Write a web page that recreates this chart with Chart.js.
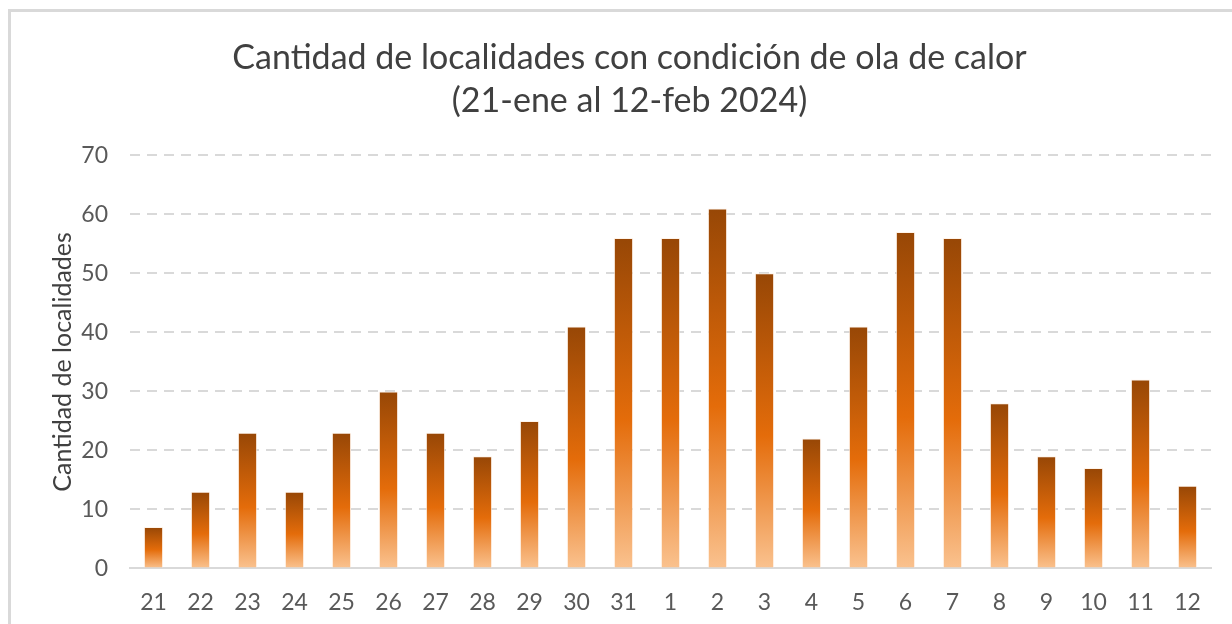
<!DOCTYPE html>
<html>
<head>
<meta charset="utf-8">
<script src="https://cdn.jsdelivr.net/npm/chart.js"></script>
<style>
  html, body { margin: 0; padding: 0; background: #fff; overflow: hidden; }
  #frame { position: absolute; left: 8px; top: 9px; width: 1300px; height: 700px; border: 3px solid #d9d9d9; box-sizing: border-box; }
  #wrap { position: absolute; left: 0; top: 0; width: 1232px; height: 624px; overflow: hidden; }
</style>
</head>
<body>
<div id="frame"></div>
<div id="wrap"><canvas id="olaChart" width="1232" height="630"></canvas></div>
<script>
// dias del 21-ene al 12-feb 2024
const dias = ['21', '22', '23', '24', '25', '26', '27', '28', '29', '30', '31',
  '1', '2', '3', '4', '5', '6', '7', '8', '9', '10', '11', '12'];
const localidades = [7, 13, 23, 13, 23, 30, 23, 19, 25, 41, 56,
  56, 61, 50, 22, 41, 57, 56, 28, 19, 17, 32, 14];
const yTicks = [0, 10, 20, 30, 40, 50, 60, 70];

const fontFam = 'Lato, "Open Sans", sans-serif';

// each bar gets its own gradient: dark brown top -> orange -> peach bottom
function barGradient(ctx) {
  const chart = ctx.chart;
  if (!chart.chartArea || ctx.dataIndex === undefined) return '#e46c0a';
  const y = chart.scales.y;
  const top = y.getPixelForValue(localidades[ctx.dataIndex]);
  const base = y.getPixelForValue(0);
  const g = chart.ctx.createLinearGradient(0, top, 0, base);
  g.addColorStop(0, '#974706');
  g.addColorStop(0.55, '#e46c0a');
  g.addColorStop(1, '#fac28f');
  return g;
}

new Chart(document.getElementById('olaChart'), {
  type: 'bar',
  data: {
    labels: dias,
    datasets: [{
      label: 'Cantidad de localidades',
      data: localidades,
      backgroundColor: barGradient,
      borderColor: 'rgba(255,240,225,0.7)',
      borderWidth: 1,
      categoryPercentage: 1,
      barPercentage: 0.41
    }]
  },
  options: {
    responsive: false,
    animation: false,
    layout: { padding: { left: 48, right: 21, top: 26, bottom: 2 } },
    plugins: {
      legend: { display: false },
      tooltip: { enabled: false },
      title: {
        display: true,
        text: ['Cantidad de localidades con condición de ola de calor', '(21-ene al 12-feb 2024)'],
        color: '#404040',
        font: { family: fontFam, size: 34, weight: 'normal', lineHeight: 1.27 },
        padding: { top: 10, bottom: 33 }
      }
    },
    scales: {
      x: {
        grid: { display: false },
        border: { display: true, color: '#d9d9d9', width: 2 },
        ticks: { color: '#595959', font: { family: fontFam, size: 23 }, padding: 12 }
      },
      y: {
        min: 0,
        max: 70,
        afterBuildTicks: axis => { axis.ticks = yTicks.map(v => ({ value: v })); },
        afterFit: axis => { axis.width = 82; },
        grid: {
          color: c => c.tick && c.tick.value === 0 ? 'rgba(0,0,0,0)' : '#d9d9d9',
          lineWidth: 2,
          drawTicks: false
        },
        border: { display: false, dash: [10, 7] },
        ticks: { color: '#595959', font: { family: fontFam, size: 23 }, padding: 22 },
        title: {
          display: true,
          text: 'Cantidad de localidades',
          color: '#404040',
          font: { family: fontFam, size: 25 },
          padding: { top: 0, bottom: 14 }
        }
      }
    }
  }
});
</script>
</body>
</html>
